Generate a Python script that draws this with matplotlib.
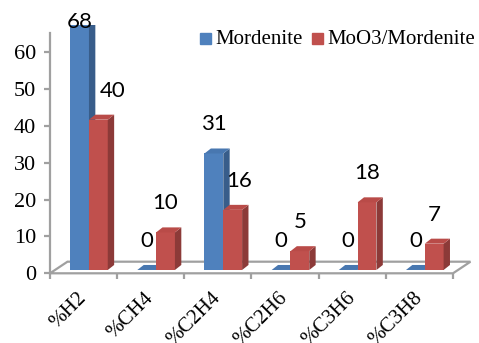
import matplotlib.pyplot as plt
from matplotlib.patches import Polygon, Rectangle
import numpy as np

categories = ['%H2', '%CH4', '%C2H4', '%C2H6', '%C3H6', '%C3H8']
mordenite = [68, 0, 31, 0, 0, 0]
moo3_mordenite = [40, 10, 16, 5, 18, 7]
series_names = ['Mordenite', 'MoO3/Mordenite']
y_ticks = [0, 10, 20, 30, 40, 50, 60]

front_col = ['#4F81BD', '#C0504D']
side_col = ['#385D8A', '#8C3A38']
top_col = ['#4877B0', '#B94B48']
grey = '#A0A0A0'

W, H = 479, 343
fig = plt.figure(figsize=(W / 100, H / 100), dpi=100)
ax = fig.add_axes([50 / W, (H - 273.3) / H, 403 / W, 248.3 / H])
ax.set_xlim(-0.5, 5.5)
ax.set_ylim(0, 67.4)

# fake 3d look: bars stand a bit behind the front plane
w = 0.28
offs = [-0.06, 0.22]
dx, dy = 0.095, 1.36
base, persp = 0.9, 1.02
x = np.arange(len(categories))

# floor
fdx, fdy = 0.26, 3.15
floor = Polygon([(-0.5, 0), (5.5, 0), (5.5 + fdx, fdy), (-0.5 + fdx, fdy)],
                closed=True, facecolor='white', edgecolor=grey, lw=1.6,
                clip_on=False, zorder=0.5)
ax.add_patch(floor)

for s, vals in enumerate([mordenite, moo3_mordenite]):
    h = np.array(vals) * persp
    x0 = x + offs[s] - w / 2
    ax.bar(x0, h, width=w, bottom=base, align='edge', color=front_col[s],
           label=series_names[s], zorder=2)
    for xi, hi in zip(x0, h):
        ax.add_patch(Polygon([(xi + w, base), (xi + w + dx, base + dy),
                              (xi + w + dx, base + hi + dy), (xi + w, base + hi)],
                             closed=True, color=side_col[s], lw=0, zorder=2))
        ax.add_patch(Polygon([(xi, base + hi), (xi + w, base + hi),
                              (xi + w + dx, base + hi + dy), (xi + dx, base + hi + dy)],
                             closed=True, color=top_col[s], lw=0, zorder=2))

# value labels (a couple were dragged sideways in the original)
label_gap = 5.2
nudge = {(1, 0): 0.21, (1, 2): 0.1}
for s, vals in enumerate([mordenite, moo3_mordenite]):
    for i, v in enumerate(vals):
        ytop = base + v * persp + label_gap
        ytop = min(ytop, 65.6)
        ax.text(i + offs[s] + nudge.get((s, i), 0), ytop, str(v),
                ha='center', va='bottom', fontsize=16, family='Lato',
                color='black', clip_on=False, zorder=5)

# axes styling
for sp in ['top', 'right']:
    ax.spines[sp].set_visible(False)
ax.spines['left'].set_bounds(0, 65.2)
ax.spines['left'].set_color(grey)
ax.spines['left'].set_linewidth(1.6)
ax.spines['bottom'].set_visible(False)

ax.set_yticks(y_ticks)
ax.set_yticklabels([str(t) for t in y_ticks], family='Liberation Serif', fontsize=16)
ax.tick_params(axis='y', direction='out', length=4, width=1.6, color=grey, pad=6)

ax.set_xticks(np.arange(-0.5, 6, 1))
ax.set_xticklabels([])
ax.tick_params(axis='x', direction='out', length=4, width=1.6, color=grey)
for i, c in enumerate(categories):
    ax.text(i + 0.1, -4.2, c, rotation=45, ha='right', va='top',
            fontsize=15, family='Liberation Serif', clip_on=False)

# legend
for k, (name, col) in enumerate(zip(series_names, front_col)):
    lx = [200, 312][k]
    fig.patches.append(Rectangle((lx / W, 1 - 44 / H), 11 / W, 11 / H,
                                 transform=fig.transFigure, color=col))
    fig.text((lx + 15) / W, 1 - 39 / H, name, ha='left', va='center',
             fontsize=15, family='Liberation Serif')

fig.savefig('out.png', dpi=100)
